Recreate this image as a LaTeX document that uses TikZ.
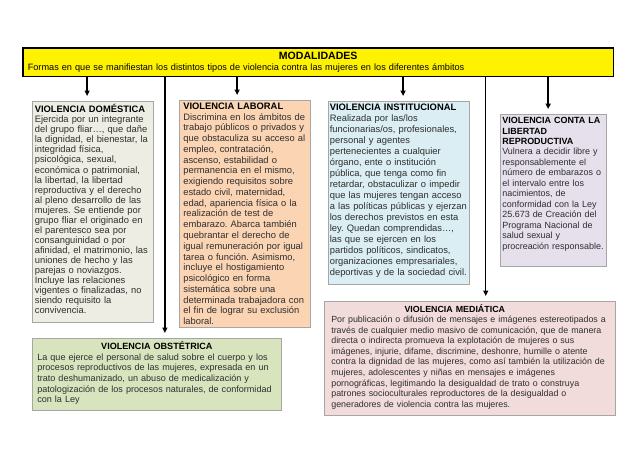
\documentclass[tikz,border=0pt]{standalone}
\usepackage{fontspec}
\setmainfont{Liberation Sans}
\usetikzlibrary{arrows.meta}
\frenchspacing

\definecolor{cDom}{HTML}{EEEDE4}
\definecolor{cLab}{HTML}{FBD4B4}
\definecolor{cIns}{HTML}{DAEEF3}
\definecolor{cRep}{HTML}{E5E0EC}
\definecolor{cObs}{HTML}{D7E4BD}
\definecolor{cMed}{HTML}{F2DCDB}
\definecolor{cBorde}{HTML}{A6A6A6}

\begin{document}
\begin{tikzpicture}[x=1bp,y=-1bp,
  caja/.style={draw=cBorde, line width=0.7bp, anchor=north west, align=left, text=black!82},
  flecha/.style={->, >={Triangle[length=5.5pt,width=5pt]}, line width=1.4bp, shorten >=5bp},
  linea/.style={line width=1.4bp}]

\useasboundingbox[fill=white] (0,0) rectangle (640,452);

% 顶部黄色框
\node[draw=black, line width=1.6bp, fill=yellow, anchor=north west, align=left,
      inner xsep=5, inner ysep=4.5, text width=583,
      font=\fontsize{9.2}{10.5}\selectfont] (modal) at (22,47)
  {\makebox[\linewidth]{\fontsize{10.6}{10.5}\selectfont\bfseries MODALIDADES}\\
   Formas en que se manifiestan los distintos tipos de violencia contra las mujeres en los diferentes ámbitos};

% 各个模式的方框
\node[caja, fill=cDom, inner xsep=2.5, inner ysep=3, text width=116,
      font=\fontsize{9.4}{10.1}\selectfont] (dom) at (32,101)
  {\textbf{\color{black}VIOLENCIA DOMÉSTICA}\\
   Ejercida por un integrante\\
   del grupo fliar…, que dañe\\
   la dignidad, el bienestar, la\\
   integridad física,\\
   psicológica, sexual,\\
   económica o patrimonial,\\
   la libertad, la libertad\\
   reproductiva y el derecho\\
   al pleno desarrollo de las\\
   mujeres. Se entiende por\\
   grupo fliar el originado en\\
   el parentesco sea por\\
   consanguinidad o por\\
   afinidad, el matrimonio, las\\
   uniones de hecho y las\\
   parejas o noviazgos.\\
   Incluye las relaciones\\
   vigentes o finalizadas, no\\
   siendo requisito la\\
   convivencia.\par\vspace*{5bp}};

\node[caja, fill=cLab, inner xsep=4, inner ysep=2.5, text width=123,
      font=\fontsize{9.4}{10.8}\selectfont] (lab) at (179,100)
  {\textbf{\color{black}VIOLENCIA LABORAL}\\
   Discrimina en los ámbitos de\\
   trabajo públicos o privados y\\
   que obstaculiza su acceso al\\
   empleo, contratación,\\
   ascenso, estabilidad o\\
   permanencia en el mismo,\\
   exigiendo requisitos sobre\\
   estado civil, maternidad,\\
   edad, apariencia física o la\\
   realización de test de\\
   embarazo. Abarca también\\
   quebrantar el derecho de\\
   igual remuneración por igual\\
   tarea o función. Asimismo,\\
   incluye el hostigamiento\\
   psicológico en forma\\
   sistemática sobre una\\
   determinada trabajadora con\\
   el fin de lograr su exclusión\\
   laboral.};

\node[caja, fill=cIns, inner xsep=1.5, inner ysep=3, text width=139,
      font=\fontsize{9.4}{11}\selectfont] (ins) at (328,101)
  {\textbf{\color{black}VIOLENCIA INSTITUCIONAL}\\
   Realizada por las/los\\
   \mbox{funcionarias/os, profesionales,}\\
   personal y agentes\\
   pertenecientes a cualquier\\
   órgano, ente o institución\\
   pública, que tenga como fin\\
   \mbox{retardar, obstaculizar o impedir}\\
   que las mujeres tengan acceso\\
   \mbox{a las políticas públicas y ejerzan}\\
   los derechos previstos en esta\\
   ley. Quedan comprendidas…,\\
   las que se ejercen en los\\
   partidos políticos, sindicatos,\\
   organizaciones empresariales,\\
   \mbox{deportivas y de la sociedad civil.}\par\vspace*{4bp}};

\node[caja, fill=cRep, inner xsep=2, inner ysep=3, text width=102,
      font=\fontsize{9}{10.5}\selectfont] (rep) at (500,114)
  {\textbf{\color{black}VIOLENCIA CONTA LA}\\
   \textbf{\color{black}LIBERTAD}\\
   \textbf{\color{black}REPRODUCTIVA}\\
   Vulnera a decidir libre y\\
   responsablemente el\\
   número de embarazos o\\
   el intervalo entre los\\
   nacimientos, de\\
   conformidad con la Ley\\
   25.673 de Creación del\\
   Programa Nacional de\\
   salud sexual y\\
   \mbox{procreación responsable.}\par\vspace*{12bp}};

\node[caja, fill=cObs, inner xsep=5, inner ysep=3, text width=240,
      font=\fontsize{9.1}{10.7}\selectfont] (obs) at (32,338)
  {\makebox[\linewidth]{\bfseries\color{black}VIOLENCIA OBSTÉTRICA}\\
   La que ejerce el personal de salud sobre el cuerpo y los\\
   procesos reproductivos de las mujeres, expresada en un\\
   trato deshumanizado, un abuso de medicalización y\\
   \mbox{patologización de los procesos naturales, de conformidad}\\
   con la Ley\par\vspace*{3bp}};

\node[caja, fill=cMed, inner xsep=7, inner ysep=3, text width=278,
      font=\fontsize{8.9}{10.6}\selectfont] (med) at (324,301)
  {\makebox[\linewidth]{\bfseries\color{black}VIOLENCIA MEDIÁTICA\hspace{30bp}}\\
   \mbox{Por publicación o difusión de mensajes e imágenes estereotipados a}\\
   \mbox{través de cualquier medio masivo de comunicación, que de manera}\\
   directa o indirecta promueva la explotación de mujeres o sus\\
   \mbox{imágenes, injurie, difame, discrimine, deshonre, humille o atente}\\
   \mbox{contra la dignidad de las mujeres, como así también la utilización de}\\
   mujeres, adolescentes y niñas en mensajes e imágenes\\
   pornográficas, legitimando la desigualdad de trato o construya\\
   patrones socioculturales reproductores de la desigualdad o\\
   generadores de violencia contra las mujeres.\par\vspace*{3bp}};

% 箭头的落点
\coordinate (pDom) at ([xshift=-5.5]dom.north);
\coordinate (pLab) at ([xshift=-7.5]lab.north);
\coordinate (pIns) at ([xshift=4]ins.north);
\coordinate (pRep) at ([xshift=-5]rep.north);
\coordinate (pObs) at ([xshift=8]obs.north);
\coordinate (pMed) at ([xshift=16]med.north);

% 从黄色框引出的箭头
\draw[flecha] (modal.south -| pDom) -- (pDom);
\draw[flecha] (modal.south -| pLab) -- (pLab);
\draw[flecha] (modal.south -| pIns) -- (pIns);
\draw[flecha] (modal.south -| pRep) -- (pRep);
\draw[flecha] (modal.south -| pObs) -- (pObs);
\draw[flecha] (modal.south -| pMed) -- (pMed);

\end{tikzpicture}
\end{document}
